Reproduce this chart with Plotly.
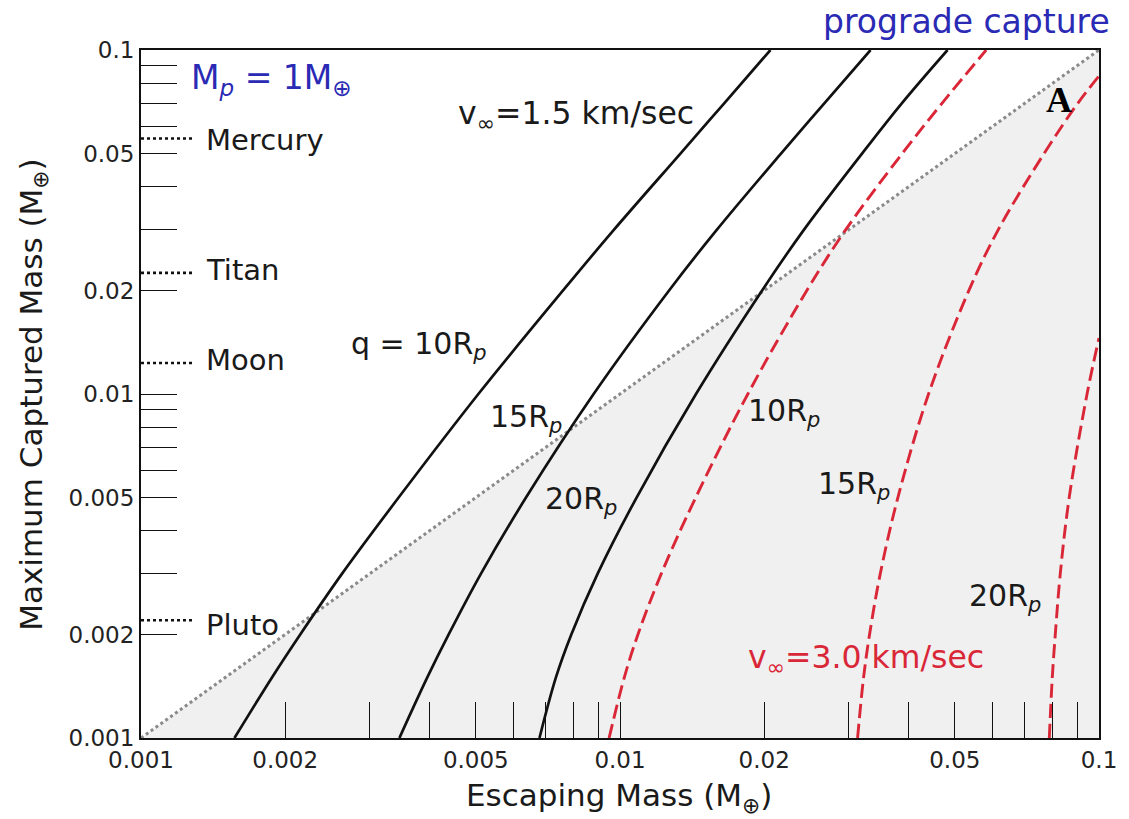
import plotly.graph_objects as go

# ---- data (Earth masses) ----
y_levels = [0.001, 0.0015, 0.002, 0.003, 0.005, 0.01, 0.02, 0.03, 0.05, 0.07, 0.1]

# v_inf = 1.5 km/s (black solid), escaping mass at each captured-mass level
x_v15_q10 = [0.001567, 0.001877, 0.002150, 0.002627, 0.003450, 0.005062, 0.007606, 0.009708, 0.01337, 0.01650, 0.02061]
x_v15_q15 = [0.003463, 0.003960, 0.004389, 0.005123, 0.006364, 0.008809, 0.01266, 0.01592, 0.02168, 0.02670, 0.03335]
x_v15_q20 = [0.006790, 0.007349, 0.007914, 0.008977, 0.01083, 0.01441, 0.01980, 0.02420, 0.03201, 0.03875, 0.04828]

# v_inf = 3.0 km/s (red dashed)
x_v30_q10 = [0.009488, 0.01021, 0.01090, 0.01219, 0.01439, 0.01849, 0.02455, 0.02958, 0.03883, 0.04701, 0.05814]
y_v30_q10 = [0.001, 0.0015, 0.002, 0.003, 0.005, 0.01, 0.02, 0.03, 0.05, 0.07, 0.1]
x_v30_q15 = [0.03133, 0.03225, 0.03319, 0.03494, 0.03803, 0.04407, 0.05351, 0.06159, 0.07679, 0.09031, 0.1]
y_v30_q15 = [0.001, 0.0015, 0.002, 0.003, 0.005, 0.01, 0.02, 0.03, 0.05, 0.07, 0.084]
x_v30_q20 = [0.07875, 0.07989, 0.08105, 0.08301, 0.08666, 0.09442, 0.1]
y_v30_q20 = [0.001, 0.0015, 0.002, 0.003, 0.005, 0.01, 0.01455]

# equal-mass diagonal
diag_x = [0.001, 0.1]
diag_y = [0.001, 0.1]

# reference bodies
body_names = ["Mercury", "Titan", "Moon", "Pluto"]
body_mass = [0.0553, 0.0225, 0.0123, 0.0022]
body_mark_x = [0.001, 0.00129]

tick_vals = [k * 10 ** e for e in (-3, -2) for k in range(1, 10)] + [0.1]
tick_labels = {0.001: "0.001", 0.002: "0.002", 0.005: "0.005", 0.01: "0.01",
               0.02: "0.02", 0.05: "0.05", 0.1: "0.1"}

BLACK = "#111111"
RED = "#da2738"
BLUE = "#2a2ab4"
FONT = "DejaVu Sans"

fig = go.Figure()

# shaded region below the diagonal
fig.add_trace(go.Scatter(x=[diag_x[0], diag_x[1], diag_x[1]], y=[diag_y[0], diag_y[1], diag_y[0]],
                         fill="toself", fillcolor="#f0f0f0", line=dict(width=0),
                         mode="lines", hoverinfo="skip", showlegend=False))

fig.add_trace(go.Scatter(x=diag_x, y=diag_y, mode="lines",
                         line=dict(color="#8a8a8a", width=3, dash="dot"), showlegend=False))

for xs in (x_v15_q10, x_v15_q15, x_v15_q20):
    fig.add_trace(go.Scatter(x=xs, y=y_levels, mode="lines",
                             line=dict(color=BLACK, width=2.7, shape="spline", smoothing=1.0),
                             showlegend=False))

for xs, ys in ((x_v30_q10, y_v30_q10), (x_v30_q15, y_v30_q15), (x_v30_q20, y_v30_q20)):
    fig.add_trace(go.Scatter(x=xs, y=ys, mode="lines",
                             line=dict(color=RED, width=2.9, dash="14px,6px", shape="spline", smoothing=1.0),
                             showlegend=False))

for m in body_mass:
    fig.add_trace(go.Scatter(x=body_mark_x, y=[m, m], mode="lines",
                             line=dict(color=BLACK, width=2.6, dash="dot"), showlegend=False))

ticktext = [tick_labels.get(round(v, 6), "") for v in tick_vals]

axis_common = dict(type="log", range=[-3, -1], showgrid=False, zeroline=False,
                   showline=True, linecolor=BLACK, linewidth=2, mirror=True,
                   ticks="inside", ticklen=36, tickwidth=1.3, tickcolor=BLACK,
                   tickvals=tick_vals, ticktext=ticktext,
                   tickfont=dict(family=FONT, size=23, color="#222222"))

fig.update_xaxes(**axis_common)
fig.update_yaxes(**axis_common)

def ann(text, x, y, size=29, color="#1a1a1a", xanchor="left", family=FONT, **kw):
    fig.add_annotation(text=text, x=x, y=y, xref="paper", yref="paper", showarrow=False,
                       xanchor=xanchor, yanchor="middle",
                       font=dict(family=family, size=size, color=color), **kw)

# axis titles
ann("Escaping Mass (M<sub>⊕</sub>)", 0.499, -0.0858, size=31, xanchor="center")
ann("Maximum Captured Mass (M<sub>⊕</sub>)", -0.113, 0.4985, size=31, xanchor="center", textangle=-90)

# header texts
ann("M<sub><i>p</i></sub> = 1M<sub>⊕</sub>", 0.0498, 0.9564, size=33, color=BLUE)
ann("prograde capture", 1.0135, 1.0407, size=33, color=BLUE, xanchor="right")
ann("<b>A</b>", 0.9585, 0.9273, size=36, color="#000000", xanchor="center", family="Liberation Serif")

# curve labels
ann("v<sub>∞</sub>=1.5 km/sec", 0.3288, 0.9055, size=31.5)
ann("q = 10R<sub><i>p</i></sub>", 0.2168, 0.5712, size=30)
ann("15R<sub><i>p</i></sub>", 0.3620, 0.4651, size=30)
ann("20R<sub><i>p</i></sub>", 0.4201, 0.3459, size=30)
ann("10R<sub><i>p</i></sub>", 0.6317, 0.4724, size=30)
ann("15R<sub><i>p</i></sub>", 0.7044, 0.3677, size=30)
ann("20R<sub><i>p</i></sub>", 0.8620, 0.2035, size=30)
ann("v<sub>∞</sub>=3.0 km/sec", 0.6317, 0.1134, size=31.5, color=RED)

# body labels
for name, yp in zip(body_names, [0.8692, 0.6802, 0.5494, 0.1642]):
    ann(name, 0.0654, yp)

fig.update_layout(width=1129, height=819, margin=dict(l=141, r=24, t=50, b=81),
                  plot_bgcolor="white", paper_bgcolor="white", showlegend=False)

fig.write_html("out.html")
